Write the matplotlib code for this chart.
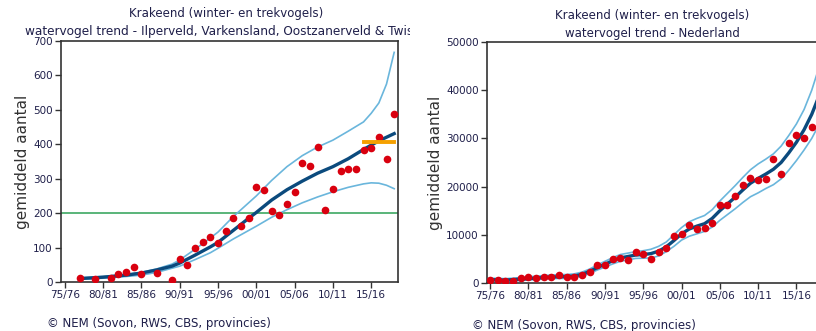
import numpy as np
import matplotlib as mpl
mpl.use('Agg')
import matplotlib.pyplot as plt
from matplotlib.transforms import Bbox, TransformedBbox

mpl.rcParams['font.family'] = 'DejaVu Sans'

# season labels, 75/76 = 1975
tick_years = [1975, 1980, 1985, 1990, 1995, 2000, 2005, 2010, 2015]
tick_labels = ['75/76', '80/81', '85/86', '90/91', '95/96', '00/01', '05/06', '10/11', '15/16']

# left panel: Ilperveld, Varkensland, Oostzanerveld & Twiske
left_years = [1977, 1979, 1981, 1982, 1983, 1984, 1985, 1987, 1989, 1990, 1991, 1992,
              1993, 1994, 1995, 1996, 1997, 1998, 1999, 2000, 2001, 2002, 2003, 2004,
              2005, 2006, 2007, 2008, 2009, 2010, 2011, 2012, 2013, 2014, 2015, 2016,
              2017, 2018]
left_counts = [13, 8, 11, 23, 30, 45, 24, 27, 7, 66, 48, 98,
               116, 132, 112, 147, 185, 164, 185, 275, 268, 206, 196, 227,
               262, 345, 338, 391, 209, 269, 321, 327, 327, 384, 388, 422,
               356, 489]

left_trend_years = [1977, 1980, 1983, 1985, 1987, 1989, 1990, 1992, 1994, 1995, 1997,
                    1999, 2000, 2002, 2004, 2006, 2008, 2010, 2012, 2014, 2016, 2018]
left_trend = [10, 14, 20, 26, 35, 46, 55, 78, 102, 115, 150,
              185, 202, 238, 268, 293, 316, 335, 358, 385, 410, 431]

left_upper_years = [1977, 1980, 1983, 1985, 1987, 1989, 1990, 1992, 1994, 1995, 1997,
                    1998, 2000, 2002, 2004, 2006, 2008, 2010, 2012, 2014, 2015, 2016,
                    2017, 2018]
left_upper = [12, 16, 22, 28, 38, 52, 64, 95, 128, 145, 190,
              210, 250, 295, 335, 367, 392, 412, 438, 465, 490, 520,
              575, 667]

left_lower_years = [1977, 1980, 1983, 1985, 1987, 1990, 1992, 1994, 1995, 1997, 2000,
                    2002, 2004, 2006, 2008, 2010, 2012, 2014, 2015, 2016, 2017, 2018]
left_lower = [8, 11, 16, 20, 28, 46, 65, 85, 98, 125, 162,
              188, 210, 230, 247, 262, 275, 285, 288, 287, 281, 271]

threshold = 200
recent_years = [2014, 2018]
recent_mean = 408

# right panel: Nederland
right_years = list(range(1975, 2018))
right_counts = [690, 690, 340, 340, 1040, 1240, 1040, 1240, 1240, 1720, 1240, 1240,
                1720, 2200, 3730, 3730, 4980, 5250, 4770, 6490, 6020, 4980, 6490, 7260,
                9670, 10230, 11950, 11270, 11470, 12450, 16250, 16250, 17970, 20330,
                21700, 21290, 21490, 25730, 22680, 29050, 30700, 30000, 32280]

curve_years = list(range(1975, 2019))
right_trend = [700, 650, 600, 700, 800, 900, 1000, 1150, 1250, 1300, 1350, 1450,
               1800, 2400, 3200, 3900, 4600, 5200, 5500, 5800, 5900, 6100, 6600, 7500,
               8800, 10200, 11200, 11800, 12300, 13400, 15000, 16400, 17800, 19300,
               20700, 21700, 22600, 23600, 25000, 27000, 29200, 31800, 35000, 39000]
right_upper = [1000, 950, 900, 1000, 1150, 1300, 1400, 1550, 1650, 1750, 1750, 1900,
               2250, 2900, 3750, 4500, 5250, 5900, 6200, 6500, 6700, 7000, 7600, 8500,
               10000, 11500, 12700, 13400, 14000, 15200, 17000, 18600, 20200, 21900,
               23500, 24700, 25700, 26800, 28400, 30600, 33000, 36000, 40000, 45000]
right_lower = [400, 300, 300, 400, 500, 650, 700, 800, 900, 950, 950, 1050,
               1400, 1950, 2700, 3300, 3950, 4500, 4800, 5100, 5150, 5200, 5600, 6500,
               7600, 8900, 9700, 10200, 10700, 11600, 13000, 14200, 15400, 16700,
               17900, 18700, 19600, 20400, 21600, 23400, 25400, 27600, 30000, 33000]

text_col = '#1f1f4a'
dark = '#0b4a7d'
light = '#6ab6dc'
red = '#d9000f'

fig = plt.figure(figsize=(8.16, 3.31), dpi=100)
ax1 = fig.add_axes([61/816, 49/331, 337/816, 241/331])
ax2 = fig.add_axes([487/816, 48/331, 337/816, 241/331])


def style(ax, ymax, ystep, xmin):
    ax.set_xlim(xmin, xmin + 44)
    ax.set_ylim(0, ymax)
    ax.set_xticks(tick_years)
    ax.set_xticklabels(tick_labels)
    ax.set_yticks(np.arange(0, ymax + 1, ystep))
    ax.tick_params(direction='out', length=4, width=1, colors='#333333',
                   labelcolor=text_col, labelsize=7.5, pad=2)
    for s in ax.spines.values():
        s.set_color('#333333')
        s.set_linewidth(1.2)
    ax.set_ylabel('gemiddeld aantal', fontsize=11, color='#333333', labelpad=2)


# left
ax1.axhline(threshold, color='#4caf6e', lw=1.3, zorder=1)
ax1.plot(left_upper_years, left_upper, color=light, lw=1.2, zorder=2)
ax1.plot(left_lower_years, left_lower, color=light, lw=1.2, zorder=2)
ax1.plot(left_trend_years, left_trend, color=dark, lw=2.4, zorder=3)
ax1.plot(left_years, left_counts, 'o', color=red, ms=5.5, mec='none', zorder=4)
ax1.plot(recent_years, [recent_mean, recent_mean], color='#f5a000', lw=2.8, zorder=5)
style(ax1, 700, 100, 1974.5)

# right
ax2.plot(curve_years, right_upper, color=light, lw=1.2, zorder=2)
ax2.plot(curve_years, right_lower, color=light, lw=1.2, zorder=2)
ax2.plot(curve_years, right_trend, color=dark, lw=2.4, zorder=3)
ax2.plot(right_years, right_counts, 'o', color=red, ms=5.5, mec='none', zorder=4)
style(ax2, 50000, 10000, 1974.6)

# titles
clip = TransformedBbox(Bbox([[0, 0], [410/816, 1]]), fig.transFigure)
t1 = fig.text(226/816, 1 - 14/331, 'Krakeend (winter- en trekvogels)', ha='center',
              va='center', fontsize=8.5, color=text_col)
t2 = fig.text(226/816, 1 - 31/331,
              'watervogel trend - Ilperveld, Varkensland, Oostzanerveld & Twiske',
              ha='center', va='center', fontsize=8.7, color=text_col)
for t in (t1, t2):
    t.set_clip_box(clip)
    t.set_clip_on(True)
fig.text(652/816, 1 - 16/331, 'Krakeend (winter- en trekvogels)', ha='center',
         va='center', fontsize=8.5, color=text_col)
fig.text(652/816, 1 - 33/331, 'watervogel trend - Nederland', ha='center',
         va='center', fontsize=8.5, color=text_col)

fig.text(47/816, 1 - 324/331, '\u00a9 NEM (Sovon, RWS, CBS, provincies)', ha='left',
         va='center', fontsize=8.5, color=text_col)
fig.text(472/816, 1 - 325/331, '\u00a9 NEM (Sovon, RWS, CBS, provincies)', ha='left',
         va='center', fontsize=8.5, color=text_col)

fig.savefig('out.png', dpi=100)
